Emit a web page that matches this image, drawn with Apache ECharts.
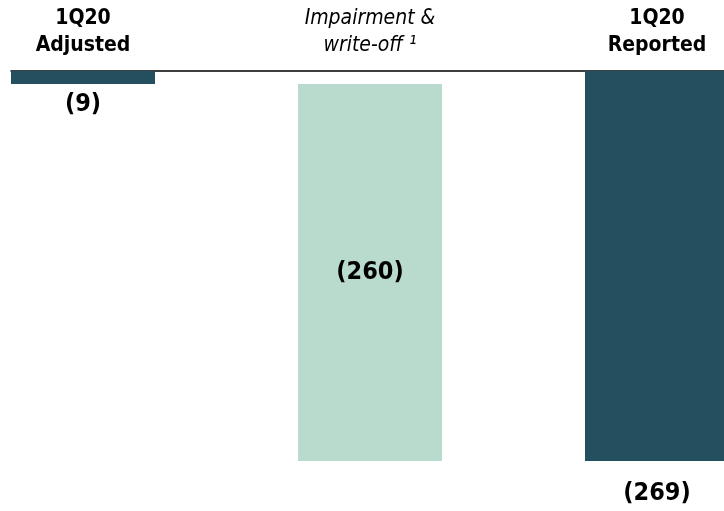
<!DOCTYPE html>
<html>
<head>
<meta charset="utf-8">
<script src="https://cdn.jsdelivr.net/npm/echarts@6/dist/echarts.min.js"></script>
<style>
  html, body { margin: 0; padding: 0; background: #ffffff; }
  #chart { width: 724px; height: 511px; }
</style>
</head>
<body>
<div id="chart"></div>
<script>
// Bridge from adjusted to reported result, 1Q20
const categories = ['1Q20\nAdjusted', 'Impairment &\nwrite-off \u00B9', '1Q20\nReported'];
const barValues = [-9, -260, -269];          // drawn height of each bar
const floatBase = [0, -9, 0];                // invisible offset for the floating step
const valueLabels = ['(9)', '(260)', '(269)'];
const isStep = [false, true, false];          // totals vs. the change in between

const DARK = '#234F5E';
const LIGHT = '#B9DBCD';
const FONT = '"DejaVu Sans Condensed", "DejaVu Sans", sans-serif';

const chart = echarts.init(document.getElementById('chart'), null, { renderer: 'canvas' });

const labelPos = [
  { position: 'bottom', distance: 8 },
  { position: 'inside', distance: 0 },
  { position: 'bottom', distance: 20 }
];

const option = {
  animation: false,
  backgroundColor: '#ffffff',
  grid: [
    { left: 83, right: 67, top: 71, bottom: 50 },
    { left: 11, right: 0, top: 71, height: 20 }
  ],
  xAxis: [
    {
      type: 'category',
      gridIndex: 0,
      data: categories.map((c, i) => isStep[i]
        ? { value: c, textStyle: { fontStyle: 'italic', fontWeight: 'normal' } }
        : c),
      position: 'top',
      boundaryGap: false,
      axisLine: { show: false },
      axisTick: { show: false },
      splitLine: { show: false },
      axisLabel: {
        interval: 0,
        margin: 12,
        color: '#000000',
        fontFamily: FONT,
        fontSize: 21,
        fontWeight: 'bold',
        lineHeight: 27
      }
    },
    {
      // baseline rule across the top
      type: 'value',
      gridIndex: 1,
      position: 'top',
      min: 0,
      max: 1,
      axisLine: { show: true, onZero: false, lineStyle: { color: '#000000', width: 1.5 } },
      axisTick: { show: false },
      axisLabel: { show: false },
      splitLine: { show: false }
    }
  ],
  yAxis: [
    { type: 'value', gridIndex: 0, min: -269, max: 0, show: false },
    { type: 'value', gridIndex: 1, min: 0, max: 1, show: false }
  ],
  series: [
    {
      type: 'bar',
      stack: 'bridge',
      xAxisIndex: 0,
      yAxisIndex: 0,
      barWidth: 144,
      itemStyle: { color: 'transparent' },
      silent: true,
      data: floatBase
    },
    {
      type: 'bar',
      stack: 'bridge',
      xAxisIndex: 0,
      yAxisIndex: 0,
      barWidth: 144,
      z: 3,
      data: barValues.map((v, i) => ({
        value: v,
        itemStyle: { color: isStep[i] ? LIGHT : DARK },
        label: {
          show: true,
          position: labelPos[i].position,
          distance: labelPos[i].distance,
          formatter: valueLabels[i],
          color: '#000000',
          fontFamily: FONT,
          fontSize: 25,
          fontWeight: 'bold'
        }
      }))
    }
  ]
};

chart.setOption(option);
</script>
</body>
</html>
